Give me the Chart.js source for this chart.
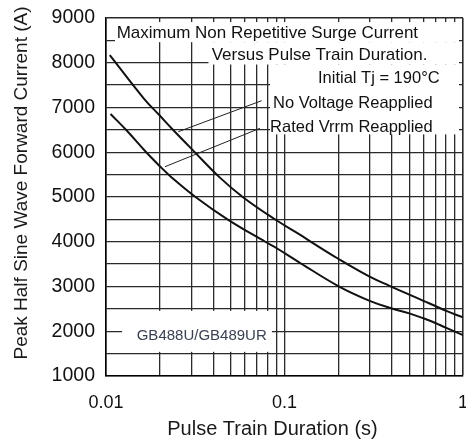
<!DOCTYPE html>
<html>
<head>
<meta charset="utf-8">
<script src="https://cdn.jsdelivr.net/npm/chart.js@4.4.0/dist/chart.umd.min.js"></script>
<style>
  html, body { margin: 0; padding: 0; background: #fff; }
  #wrap { width: 466px; height: 445px; }
</style>
</head>
<body>
<div id="wrap"><canvas id="surge-chart" width="466" height="445"></canvas></div>
<script>
// Surge current vs pulse train duration, two reapplied-voltage conditions
const noVoltageT = [0.0105, 0.0163, 0.02, 0.0235, 0.0311, 0.043, 0.0588, 0.0901, 0.122, 0.1393, 0.2, 0.3, 0.39, 0.5, 0.6, 0.7, 0.8, 1.0];
const noVoltageA = [8170, 7200, 6820, 6520, 6020, 5450, 4990, 4480, 4160, 4010, 3620, 3220, 3010, 2820, 2680, 2565, 2460, 2310];

const ratedVrrmT = [0.0106, 0.0131, 0.0167, 0.02, 0.023, 0.032, 0.0484, 0.078, 0.09, 0.122, 0.2, 0.3, 0.4, 0.5, 0.6, 0.7, 0.8, 1.0];
const ratedVrrmA = [6855, 6480, 6010, 5690, 5460, 4990, 4490, 4000, 3860, 3530, 3010, 2680, 2510, 2400, 2290, 2185, 2080, 1915];

const xTickLabels = [0.01, 0.1, 1];
const yTickLabels = [1000, 2000, 3000, 4000, 5000, 6000, 7000, 8000, 9000];

// every 1..9 step of each decade gets a grid line
const xGridValues = [];
[0.01, 0.1].forEach(d => {
  for (let k = 1; k <= 9; k++) xGridValues.push(parseFloat((k * d).toPrecision(6)));
});
xGridValues.push(1);

// white patches behind the notes, in data units [x0, x1, y0, y1]
const gridMasks = [
  [0.01123, 0.95, 8910, 8460],
  [0.0375, 0.95, 8460, 7960],
  [0.083, 0.95, 7960, 6400],
  [0.0123, 0.085, 2455, 1540]
];

const notes = [
  { text: 'Maximum Non Repetitive Surge Current', x: 0.01148, y: 8546, size: 17, color: '#111' },
  { text: 'Versus Pulse Train Duration.', x: 0.03908, y: 8061, size: 17, color: '#111' },
  { text: 'Initial Tj = 190°C', x: 0.154, y: 7554, size: 16.5, color: '#111' },
  { text: 'No Voltage Reapplied', x: 0.0862, y: 6982, size: 16.5, color: '#111' },
  { text: 'Rated Vrrm Reapplied', x: 0.083, y: 6459, size: 16.5, color: '#111' },
  { text: 'GB488U/GB489UR', x: 0.01486, y: 1804, size: 15, color: '#3a4152' }
];

const leaders = [
  [0.02542, 6459, 0.0745, 7152],
  [0.0214, 5677, 0.0728, 6535]
];

const FONT = "'Liberation Sans', Arial, sans-serif";
Chart.defaults.font.family = FONT;

const annotations = {
  id: 'annotations',
  beforeDatasetsDraw(chart) {
    const { ctx, scales: { x, y } } = chart;
    ctx.save();
    ctx.fillStyle = '#fff';
    gridMasks.forEach(([x0, x1, y0, y1]) => {
      const px0 = x.getPixelForValue(x0), px1 = x.getPixelForValue(x1);
      const py0 = y.getPixelForValue(y0), py1 = y.getPixelForValue(y1);
      ctx.fillRect(px0, py0, px1 - px0, py1 - py0);
    });
    ctx.restore();
  },
  afterDatasetsDraw(chart) {
    const { ctx, scales: { x, y } } = chart;
    ctx.save();
    ctx.strokeStyle = '#222';
    ctx.lineWidth = 1;
    leaders.forEach(([x0, y0, x1, y1]) => {
      ctx.beginPath();
      ctx.moveTo(x.getPixelForValue(x0), y.getPixelForValue(y0));
      ctx.lineTo(x.getPixelForValue(x1), y.getPixelForValue(y1));
      ctx.stroke();
    });

    ctx.textAlign = 'left';
    ctx.textBaseline = 'alphabetic';
    notes.forEach(n => {
      ctx.font = n.size + 'px ' + FONT;
      ctx.fillStyle = n.color;
      ctx.fillText(n.text, x.getPixelForValue(n.x), y.getPixelForValue(n.y));
    });

    // axis titles
    ctx.fillStyle = '#1a1a1a';
    ctx.textAlign = 'center';
    ctx.font = '20px ' + FONT;
    ctx.fillText('Pulse Train Duration (s)', 272.5, 435);

    ctx.translate(27, 183);
    ctx.rotate(-Math.PI / 2);
    ctx.font = '19px ' + FONT;
    ctx.fillText('Peak Half Sine Wave Forward Current (A)', 0, 0);
    ctx.restore();
  }
};

const isDecade = v => Math.abs(Math.log10(v) - Math.round(Math.log10(v))) < 1e-6;

const ctx = document.getElementById('surge-chart').getContext('2d');
new Chart(ctx, {
  type: 'line',
  data: {
    datasets: [
      {
        label: 'No Voltage Reapplied',
        data: noVoltageT.map((t, i) => ({ x: t, y: noVoltageA[i] })),
        borderColor: '#111',
        borderWidth: 2,
        pointRadius: 0,
        tension: 0.4
      },
      {
        label: 'Rated Vrrm Reapplied',
        data: ratedVrrmT.map((t, i) => ({ x: t, y: ratedVrrmA[i] })),
        borderColor: '#111',
        borderWidth: 2,
        pointRadius: 0,
        tension: 0.4
      }
    ]
  },
  options: {
    responsive: false,
    animation: false,
    devicePixelRatio: 1,
    layout: { padding: { left: 0, top: 18, right: 3, bottom: 0 } },
    plugins: {
      legend: { display: false },
      tooltip: { enabled: false }
    },
    scales: {
      x: {
        type: 'logarithmic',
        min: 0.01,
        max: 1,
        afterBuildTicks(scale) {
          scale.ticks = xGridValues.map(v => ({ value: v }));
        },
        afterFit(scale) {
          scale.height = 69;
          scale.paddingLeft = 0;
          scale.paddingRight = 0;
        },
        grid: {
          color: '#2a2a2a',
          lineWidth: c => (c.tick && c.tick.value === 1 ? 1.6 : 1.3),
          drawTicks: false
        },
        border: { display: true, color: '#000', width: 1.6 },
        ticks: {
          autoSkip: false,
          maxRotation: 0,
          padding: 16,
          color: '#111',
          font: { size: 18 },
          callback: v => (xTickLabels.some(t => Math.abs(t - v) < 1e-9) && isDecade(v) ? String(v) : '')
        }
      },
      y: {
        min: 1000,
        max: 9000,
        afterFit(scale) {
          scale.width = 106;
          scale.paddingTop = 0;
          scale.paddingBottom = 0;
        },
        grid: {
          color: '#2a2a2a',
          lineWidth: c => (c.tick && c.tick.value === 9000 ? 1.6 : 1.3),
          drawTicks: false
        },
        border: { display: true, color: '#000', width: 1.6 },
        ticks: {
          stepSize: 500,
          autoSkip: false,
          padding: 11,
          color: '#111',
          font: { size: 19.5 },
          callback: v => (yTickLabels.includes(v) ? String(v) : '')
        }
      }
    }
  },
  plugins: [annotations]
});
</script>
</body>
</html>
